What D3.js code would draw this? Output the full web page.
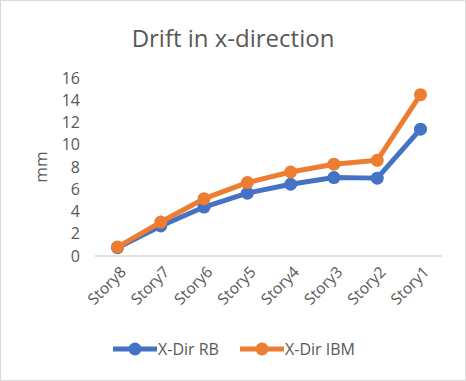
<!DOCTYPE html>
<html><head><meta charset="utf-8">
<script src="https://cdn.jsdelivr.net/npm/d3@7"></script>
<style>body{margin:0;background:#fff}svg{display:block}</style>
</head><body>
<svg id="c" width="466" height="381"></svg>
<script>
const categories = ["Story8","Story7","Story6","Story5","Story4","Story3","Story2","Story1"];
const rbValues  = [0.75, 2.7, 4.4, 5.65, 6.45, 7.05, 7.0, 11.4];
const ibmValues = [0.8, 3.05, 5.15, 6.6, 7.55, 8.25, 8.6, 14.5];
const yTicks = [0,2,4,6,8,10,12,14,16];
const seriesNames = ["X-Dir RB","X-Dir IBM"];
const colors = ["#4472C4","#ED7D31"];

const svg = d3.select("#c");
const font = "Open Sans, Liberation Sans, sans-serif";
svg.append("rect").attr("x",0.5).attr("y",0.5).attr("width",465).attr("height",380)
  .attr("fill","#fff").attr("stroke","#d9d9d9");

svg.append("text").attr("x",233).attr("y",47).attr("text-anchor","middle")
  .attr("font-family",font).attr("font-size",24).attr("fill","#595959").text("Drift in x-direction");

const x = d3.scalePoint().domain(categories).range([117.5, 420.5]);
const y = d3.scaleLinear().domain([0,16]).range([256, 78]);

// y axis labels
const ya = svg.append("g").attr("transform","translate(80,0)")
  .call(d3.axisLeft(y).tickValues(yTicks).tickSize(0).tickPadding(0));
ya.select(".domain").remove();
ya.selectAll("text").attr("font-family",font).attr("font-size",16).attr("fill","#595959");

// x axis
const xa = svg.append("g").attr("transform","translate(0,256)")
  .call(d3.axisBottom(x).tickSize(0).tickPadding(0).tickSizeOuter(0));
xa.select(".domain").remove();
svg.append("line").attr("x1",95).attr("x2",442).attr("y1",256).attr("y2",256)
  .attr("stroke","#d9d9d9").attr("stroke-width",1.3);
xa.selectAll("text").attr("font-family",font).attr("font-size",15.5).attr("fill","#595959")
  .attr("text-anchor","end").attr("dy",0)
  .attr("transform","translate(9,17) rotate(-45)");

svg.append("text").attr("transform","translate(47,167) rotate(-90)").attr("text-anchor","middle")
  .attr("font-family",font).attr("font-size",17).attr("fill","#595959").text("mm");

const line = d3.line().x((d,i)=>x(categories[i])).y(d=>y(d));
[rbValues, ibmValues].forEach((vals,k)=>{
  svg.append("path").datum(vals).attr("d",line).attr("fill","none")
    .attr("stroke",colors[k]).attr("stroke-width",5).attr("stroke-linejoin","round");
  svg.selectAll(null).data(vals).enter().append("circle")
    .attr("cx",(d,i)=>x(categories[i])).attr("cy",d=>y(d)).attr("r",6.5).attr("fill",colors[k]);
});

// legend
const legX = [113, 240];
seriesNames.forEach((n,k)=>{
  const g = svg.append("g");
  g.append("line").attr("x1",legX[k]).attr("x2",legX[k]+44).attr("y1",349).attr("y2",349)
    .attr("stroke",colors[k]).attr("stroke-width",5);
  g.append("circle").attr("cx",legX[k]+22).attr("cy",349).attr("r",6.5).attr("fill",colors[k]);
  g.append("text").attr("x",legX[k]+45).attr("y",355).attr("font-family",font).attr("font-size",16)
    .attr("fill","#595959").text(n);
});
</script>
</body></html>
